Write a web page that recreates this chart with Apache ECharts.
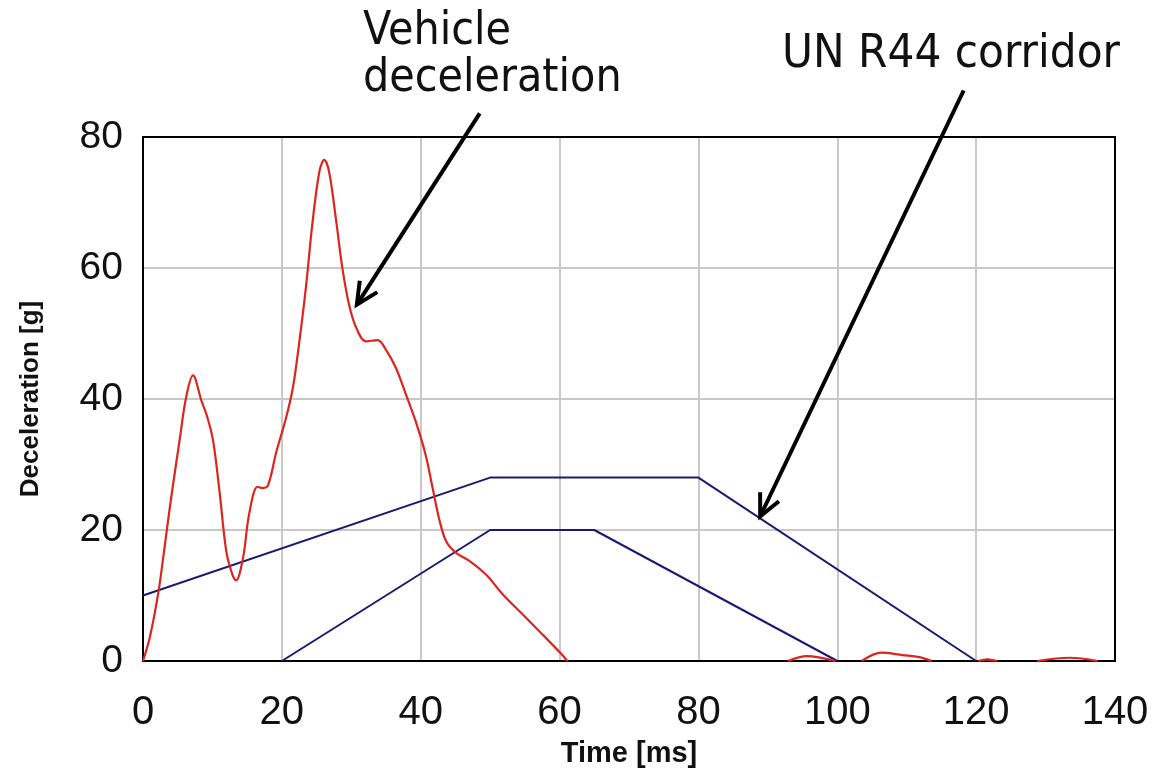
<!DOCTYPE html>
<html>
<head>
<meta charset="utf-8">
<script src="https://cdn.jsdelivr.net/npm/echarts@6/dist/echarts.min.js"></script>
<style>
  html, body { margin: 0; padding: 0; background: #fff; }
  #chart { width: 1167px; height: 773px; }
</style>
</head>
<body>
<div id="chart"></div>
<script>
// Axis ranges and tick settings
const xTicks = [0, 20, 40, 60, 80, 100, 120, 140];
const yTicks = [0, 20, 40, 60, 80];

// Measured vehicle deceleration [ms, g]; null breaks where the trace lies on zero
const vehicleDecel = [
  [0, 0], [1, 3.7], [2.2, 10.4], [3, 16.5], [4, 24.5], [5.3, 33.9], [6.2, 40.2],
  [7.2, 43.6], [8.4, 39.8], [9.3, 37.1], [10.1, 33.6], [11, 26.1], [12, 16.7],
  [12.9, 13.1], [13.4, 12.3], [14.4, 15.7], [15.3, 22.5], [16.5, 26.6],
  [17.2, 26.4], [18, 26.8], [19.2, 31.9], [20.6, 37.1], [21.6, 41.8],
  [22.5, 48.6], [23.5, 57.4], [24.4, 66.8], [25.4, 74.7], [26.1, 76.5],
  [26.8, 74.7], [27.8, 67.4], [28.7, 60.1], [29.7, 54.3], [30.7, 50.9],
  [32.1, 48.8], [33.8, 49.0], [35, 47.5], [36.4, 44.8], [37.8, 40.9],
  [39.3, 36.5], [40.7, 31.5], [41.7, 26.5], [42.7, 21.5], [43.7, 18.2],
  [45.1, 16.5], [47, 15.3], [49.4, 13.2], [51.8, 10.2], [54.6, 7.2],
  [57.5, 4.1], [60.4, 0.9], [61.1, 0],
  null,
  [92.9, 0], [95.6, 0.75], [99.7, 0],
  null,
  [103.5, 0], [106.4, 1.27], [109.4, 0.9], [111.8, 0.6], [113.6, 0],
  null,
  [120.3, 0], [121.6, 0.25], [123, 0],
  null,
  [128.8, 0], [133.5, 0.5], [137.5, 0]
];

// UN R44 corridor limits [ms, g]
const corridorUpper = [[0, 10], [50, 28], [80, 28], [120, 0]];
const corridorLower = [[20, 0], [50, 20], [65, 20], [100, 0]];

// Arrow endpoints in data units: [start, tip]
const arrowVehicle = [[48.5, 83.6], [30.8, 54.4]];
const arrowCorridor = [[118.2, 87.1], [88.9, 22.1]];

const RED = '#dc2420';
const NAVY = '#1a1a72';
const FRAME = { show: true, onZero: false, lineStyle: { color: '#000', width: 2 } };

const chart = echarts.init(document.getElementById('chart'), null, { renderer: 'canvas' });

const option = {
  animation: false,
  backgroundColor: '#ffffff',
  grid: { left: 143, right: 52, top: 137, bottom: 110 },
  xAxis: [
    {
      type: 'value',
      min: xTicks[0], max: xTicks[xTicks.length - 1], interval: 20,
      name: 'Time [ms]',
      nameLocation: 'middle',
      nameGap: 78,
      nameTextStyle: { fontFamily: 'Liberation Sans', fontWeight: 'bold', fontSize: 29, color: '#111' },
      axisLine: FRAME,
      axisTick: { show: false },
      axisLabel: { fontFamily: 'Liberation Sans', fontSize: 40, color: '#111', margin: 32 },
      splitLine: { show: true, lineStyle: { color: '#c8c8c8', width: 2 } }
    },
    {
      // top edge of the plot frame
      type: 'value', position: 'top', z: 6,
      min: xTicks[0], max: xTicks[xTicks.length - 1], interval: 20,
      axisLine: FRAME, axisTick: { show: false }, axisLabel: { show: false },
      splitLine: { show: false }
    }
  ],
  yAxis: [
    {
      type: 'value',
      min: yTicks[0], max: yTicks[yTicks.length - 1], interval: 20,
      name: 'Deceleration [g]',
      nameLocation: 'middle',
      nameRotate: 90,
      nameGap: 99,
      nameTextStyle: { fontFamily: 'Liberation Sans', fontWeight: 'bold', fontSize: 26, color: '#111' },
      axisLine: FRAME,
      axisTick: { show: false },
      axisLabel: { fontFamily: 'Liberation Sans', fontSize: 39, color: '#111', margin: 20 },
      splitLine: { show: true, lineStyle: { color: '#c8c8c8', width: 2 } }
    },
    {
      // right edge of the plot frame
      type: 'value', position: 'right', z: 6,
      min: yTicks[0], max: yTicks[yTicks.length - 1], interval: 20,
      axisLine: FRAME, axisTick: { show: false }, axisLabel: { show: false },
      splitLine: { show: false }
    }
  ],
  series: [
    {
      name: 'Upper corridor', type: 'line', data: corridorUpper,
      showSymbol: false, lineStyle: { color: NAVY, width: 2 }, z: 3
    },
    {
      name: 'Lower corridor', type: 'line', data: corridorLower,
      showSymbol: false, lineStyle: { color: NAVY, width: 2 }, z: 3
    },
    {
      name: 'Vehicle deceleration', type: 'line', data: vehicleDecel,
      showSymbol: false, smooth: 0.35, connectNulls: false,
      lineStyle: { color: RED, width: 2.2 }, z: 4
    }
  ]
};

chart.setOption(option);

// Annotation text and arrows
function arrow(pair) {
  const p0 = chart.convertToPixel({ xAxisIndex: 0, yAxisIndex: 0 }, pair[0]);
  const p1 = chart.convertToPixel({ xAxisIndex: 0, yAxisIndex: 0 }, pair[1]);
  const ang = Math.atan2(p1[1] - p0[1], p1[0] - p0[0]);
  const len = 24, spread = 0.45;
  const h1 = [p1[0] - len * Math.cos(ang - spread), p1[1] - len * Math.sin(ang - spread)];
  const h2 = [p1[0] - len * Math.cos(ang + spread), p1[1] - len * Math.sin(ang + spread)];
  const style = { stroke: '#000', lineWidth: 4, fill: null, lineCap: 'butt', lineJoin: 'miter' };
  return [
    { type: 'polyline', shape: { points: [p0, p1] }, style: style, z: 10 },
    { type: 'polyline', shape: { points: [h1, p1, h2] }, style: style, z: 10 }
  ];
}

chart.setOption({
  graphic: [
    {
      type: 'text', x: 363, y: 9, scaleX: 0.9, z: 10,
      style: {
        text: 'Vehicle\ndeceleration',
        fontFamily: 'DejaVu Sans', fontSize: 46, lineHeight: 47,
        fill: '#111', textAlign: 'left', textVerticalAlign: 'top'
      }
    },
    {
      type: 'text', x: 782, y: 32, scaleX: 0.92, z: 10,
      style: {
        text: 'UN R44 corridor',
        fontFamily: 'DejaVu Sans', fontSize: 46, lineHeight: 47,
        fill: '#111', textAlign: 'left', textVerticalAlign: 'top'
      }
    }
  ].concat(arrow(arrowVehicle), arrow(arrowCorridor))
});
</script>
</body>
</html>
